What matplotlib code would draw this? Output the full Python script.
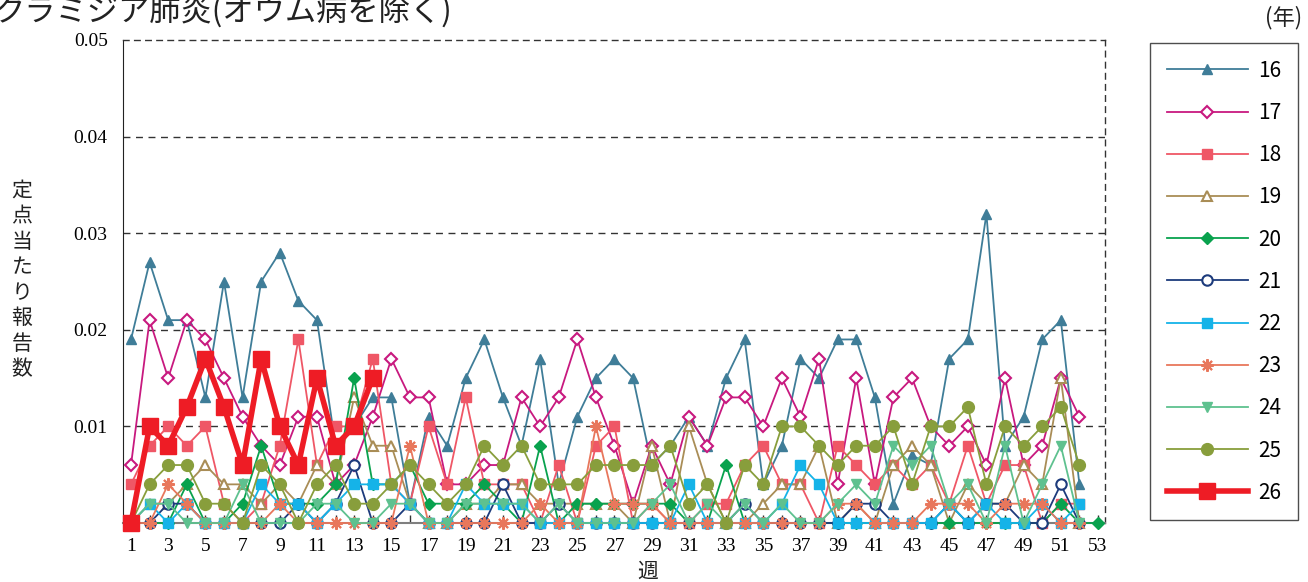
import matplotlib
matplotlib.use("Agg")
import matplotlib.pyplot as plt
import numpy as np

plt.rcParams['font.family'] = ['Noto Sans CJK JP', 'DejaVu Sans']

title = "クラミジア肺炎(オウム病を除く)"
ylabel = "定点当たり報告数"
xlabel = "週"
unit_label = "(年)"

years = ["16", "17", "18", "19", "20", "21", "22", "23", "24", "25", "26"]

s16 = [0.019, 0.027, 0.021, 0.021, 0.013, 0.025, 0.013, 0.025, 0.028, 0.023,
       0.021, 0.008, 0.010, 0.013, 0.013, 0.002, 0.011, 0.008, 0.015, 0.019,
       0.013, 0.008, 0.017, 0.004, 0.011, 0.015, 0.017, 0.015, 0.006, 0.008,
       0.011, 0.008, 0.015, 0.019, 0.004, 0.008, 0.017, 0.015, 0.019, 0.019,
       0.013, 0.002, 0.007, 0.006, 0.017, 0.019, 0.032, 0.008, 0.011, 0.019,
       0.021, 0.004]
s17 = [0.006, 0.021, 0.015, 0.021, 0.019, 0.015, 0.011, 0.008, 0.006, 0.011,
       0.011, 0.004, 0.006, 0.011, 0.017, 0.013, 0.013, 0.004, 0.004, 0.006,
       0.006, 0.013, 0.010, 0.013, 0.019, 0.013, 0.008, 0.002, 0.008, 0.004,
       0.011, 0.008, 0.013, 0.013, 0.010, 0.015, 0.011, 0.017, 0.004, 0.015,
       0.004, 0.013, 0.015, 0.010, 0.008, 0.010, 0.006, 0.015, 0.006, 0.008,
       0.015, 0.011]
s18 = [0.004, 0.008, 0.010, 0.008, 0.010, 0.002, 0.000, 0.002, 0.008, 0.019,
       0.006, 0.010, 0.010, 0.017, 0.004, 0.002, 0.010, 0.004, 0.013, 0.004,
       0.004, 0.004, 0.000, 0.006, 0.000, 0.008, 0.010, 0.000, 0.002, 0.000,
       0.000, 0.002, 0.002, 0.006, 0.008, 0.004, 0.004, 0.000, 0.008, 0.006,
       0.004, 0.006, 0.004, 0.006, 0.002, 0.008, 0.002, 0.006, 0.006, 0.000,
       0.002, 0.002]
s19 = [0.000, 0.002, 0.002, 0.004, 0.006, 0.004, 0.004, 0.002, 0.004, 0.002,
       0.006, 0.004, 0.013, 0.008, 0.008, 0.002, 0.000, 0.000, 0.002, 0.002,
       0.004, 0.004, 0.002, 0.002, 0.002, 0.002, 0.002, 0.000, 0.008, 0.000,
       0.010, 0.004, 0.000, 0.000, 0.002, 0.004, 0.004, 0.008, 0.000, 0.002,
       0.000, 0.006, 0.008, 0.006, 0.000, 0.004, 0.002, 0.002, 0.006, 0.004,
       0.015, 0.000]
s20 = [0.000, 0.000, 0.000, 0.004, 0.000, 0.000, 0.002, 0.008, 0.002, 0.002,
       0.002, 0.004, 0.015, 0.004, 0.004, 0.006, 0.002, 0.002, 0.002, 0.004,
       0.002, 0.000, 0.008, 0.000, 0.002, 0.002, 0.002, 0.002, 0.002, 0.002,
       0.000, 0.000, 0.006, 0.000, 0.000, 0.000, 0.000, 0.000, 0.000, 0.000,
       0.000, 0.000, 0.000, 0.000, 0.000, 0.000, 0.000, 0.000, 0.000, 0.000,
       0.002, 0.000, 0.000]
s21 = [0.000, 0.000, 0.002, 0.002, 0.000, 0.000, 0.000, 0.000, 0.000, 0.002,
       0.000, 0.002, 0.006, 0.000, 0.000, 0.002, 0.000, 0.000, 0.000, 0.000,
       0.004, 0.000, 0.000, 0.002, 0.000, 0.000, 0.000, 0.000, 0.000, 0.000,
       0.000, 0.000, 0.000, 0.002, 0.000, 0.000, 0.000, 0.000, 0.000, 0.002,
       0.002, 0.000, 0.000, 0.000, 0.002, 0.000, 0.002, 0.002, 0.000, 0.000,
       0.004, 0.000]
s22 = [0.000, 0.002, 0.000, 0.002, 0.000, 0.000, 0.000, 0.004, 0.002, 0.002,
       0.000, 0.002, 0.004, 0.004, 0.004, 0.002, 0.000, 0.000, 0.004, 0.002,
       0.002, 0.002, 0.000, 0.000, 0.000, 0.000, 0.000, 0.000, 0.000, 0.000,
       0.004, 0.000, 0.000, 0.000, 0.000, 0.002, 0.006, 0.004, 0.000, 0.000,
       0.000, 0.000, 0.000, 0.000, 0.002, 0.000, 0.002, 0.000, 0.000, 0.002,
       0.000, 0.002]
s23 = [0.000, 0.000, 0.004, 0.002, 0.000, 0.000, 0.000, 0.000, 0.002, 0.000,
       0.000, 0.000, 0.000, 0.000, 0.000, 0.008, 0.000, 0.000, 0.000, 0.000,
       0.000, 0.000, 0.002, 0.000, 0.000, 0.010, 0.002, 0.002, 0.002, 0.000,
       0.000, 0.000, 0.000, 0.000, 0.000, 0.000, 0.000, 0.000, 0.002, 0.002,
       0.000, 0.000, 0.000, 0.002, 0.002, 0.002, 0.000, 0.002, 0.002, 0.002,
       0.000, 0.000]
s24 = [0.000, 0.002, 0.002, 0.000, 0.000, 0.000, 0.004, 0.000, 0.000, 0.000,
       0.002, 0.002, 0.000, 0.000, 0.002, 0.002, 0.000, 0.000, 0.002, 0.002,
       0.002, 0.002, 0.000, 0.002, 0.000, 0.000, 0.000, 0.000, 0.002, 0.004,
       0.000, 0.002, 0.000, 0.002, 0.000, 0.002, 0.000, 0.000, 0.002, 0.004,
       0.002, 0.008, 0.006, 0.008, 0.002, 0.004, 0.000, 0.008, 0.000, 0.004,
       0.008, 0.000]
s25 = [0.000, 0.004, 0.006, 0.006, 0.002, 0.002, 0.000, 0.006, 0.004, 0.000,
       0.004, 0.006, 0.002, 0.002, 0.004, 0.006, 0.004, 0.002, 0.004, 0.008,
       0.006, 0.008, 0.004, 0.004, 0.004, 0.006, 0.006, 0.006, 0.006, 0.008,
       0.002, 0.004, 0.000, 0.006, 0.004, 0.010, 0.010, 0.008, 0.006, 0.008,
       0.008, 0.010, 0.004, 0.010, 0.010, 0.012, 0.004, 0.010, 0.008, 0.010,
       0.012, 0.006]
s26 = [0.000, 0.010, 0.008, 0.012, 0.017, 0.012, 0.006, 0.017, 0.010, 0.006,
       0.015, 0.008, 0.010, 0.015]

series = [s16, s17, s18, s19, s20, s21, s22, s23, s24, s25, s26]

colors = ['#3f7d98', '#c8197f', '#ef5766', '#a98d56', '#09a24e', '#1d3b7c',
          '#15b3e8', '#e8775c', '#5ec18f', '#889e3c', '#ee1c25']
markers = ['^', 'D', 's', '^', 'D', 'o', 's', (8, 2, 0), 'v', 'o', 's']
msizes = [7.5, 6, 7.5, 7.5, 6, 7.5, 7, 9, 7.5, 8.5, 11]
mfcs = [None, 'white', None, 'white', None, 'white', None, None, None, None, None]
lws = [1.3, 1.3, 1.3, 1.3, 1.3, 1.3, 1.3, 1.3, 1.3, 1.3, 4.0]

W, H = 1308, 582
fig = plt.figure(figsize=(W / 100, H / 100), dpi=100)
ax = fig.add_axes([123 / W, 1 - 523 / H, (1105 - 123) / W, (523 - 40) / H])

handles = []
for i, (yr, vals) in enumerate(zip(years, series)):
    weeks = np.arange(1, len(vals) + 1)
    c = colors[i]
    mfc = mfcs[i] if mfcs[i] is not None else c
    mew = 1.5 if i in (1, 3, 5, 7) else 1.0
    ln, = ax.plot(weeks, vals, color=c, lw=lws[i], marker=markers[i],
                  ms=msizes[i], mfc=mfc, mec=c, mew=mew, clip_on=False,
                  zorder=3 + i * 0.1, label=yr)
    handles.append(ln)

ax.set_xlim(1 - 8 / 18.6, 53 + 7 / 18.6)
ax.set_ylim(0, 0.05)

yt = [0.01, 0.02, 0.03, 0.04, 0.05]
ax.set_yticks(yt)
ax.set_yticklabels([f"{v:.2f}" for v in yt], family='Liberation Serif', fontsize=14)
ax.tick_params(axis='y', length=0, pad=11)
for v in yt[:-1]:
    ax.axhline(v, color='#333333', lw=1.0, ls=(0, (5, 4)), zorder=1)

wk = np.arange(1, 54)
ax.set_xticks(wk)
ax.set_xticklabels([str(w) if w % 2 == 1 else "" for w in wk],
                   family='Liberation Serif', fontsize=14)
ax.tick_params(axis='x', direction='in', length=6, width=1, color='#333333', pad=11)

for s in ('top', 'right'):
    ax.spines[s].set_linestyle((0, (4, 4)))
    ax.spines[s].set_linewidth(1.0)
    ax.spines[s].set_color('#333333')
ax.spines['left'].set_color('#222222')
ax.spines['bottom'].set_color('#7f7f7f')
ax.spines['bottom'].set_linewidth(1.5)

fig.text(453 / W, 1 - 11 / H, title, ha='right', va='center', fontsize=22.5, color='#222222')
fig.text(22 / W, 1 - 280 / H, "\n".join(ylabel), ha='center', va='center',
         fontsize=15, linespacing=1.2, color='#222222')
fig.text(648 / W, 1 - 572 / H, xlabel, ha='center', va='center', fontsize=15, color='#222222')
fig.text(1284 / W, 1 - 18 / H, unit_label, ha='center', va='center', fontsize=16, color='#222222')

leg = ax.legend(handles=handles, labels=years, loc='upper left',
                bbox_to_anchor=(1150 / W, 1 - 43 / H), bbox_transform=fig.transFigure,
                frameon=True, fancybox=False, edgecolor='#222222', fontsize=15,
                handlelength=3.9, labelspacing=0.97, borderpad=0.8, handletextpad=0.5,
                borderaxespad=0)
leg.get_frame().set_linewidth(1.0)

fig.savefig("out.png", dpi=100)
